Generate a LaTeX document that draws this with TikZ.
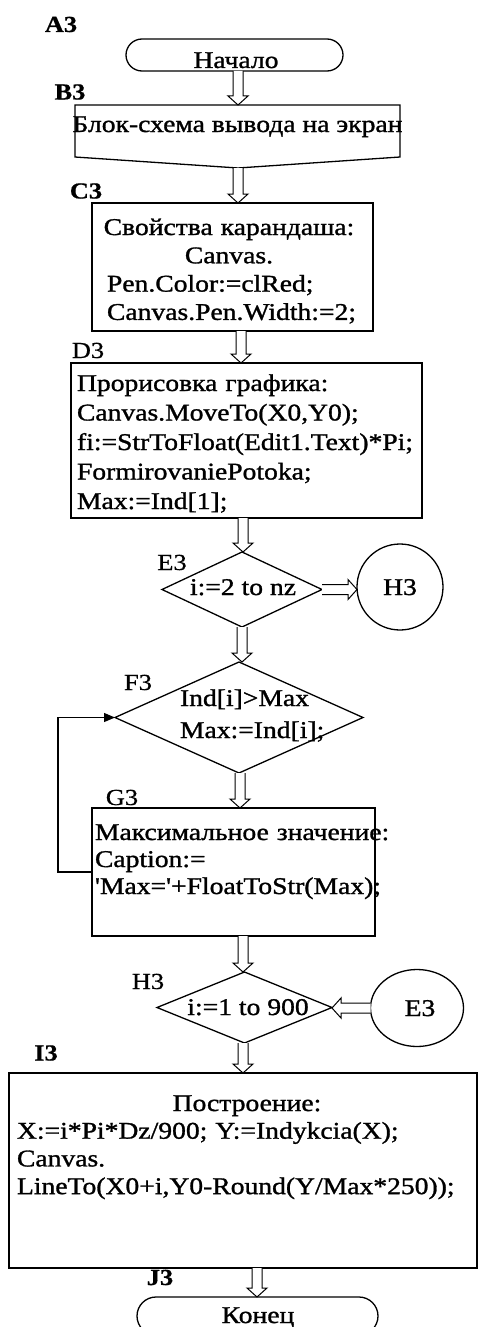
\documentclass[tikz,border=0pt]{standalone}
\usepackage{fontspec}
\setmainfont{Liberation Serif}[FakeStretch=1.15,FakeBold=1.2,Ligatures=TeXOff]
\newfontfamily\labfont{Liberation Serif}[FakeStretch=1.15,FakeBold=0.6,Ligatures=TeXOff]
\usetikzlibrary{shapes.geometric,calc,arrows.meta}

\tikzset{
  x=1pt, y=-1pt,
  every node/.style={inner sep=0pt, outer sep=0pt},
  txt/.style={font=\fontsize{24}{28}\selectfont, anchor=base},
  lab/.style={font=\labfont\fontsize{23}{27}\selectfont, anchor=base},
  blab/.style={font=\labfont\fontsize{23}{27}\selectfont\bfseries, anchor=base},
  box/.style={draw, rectangle, line width=1.3pt},
  para/.style={font=\fontsize{24}{#1}\selectfont, anchor=base west, align=left},
  harrow/.style={draw, line width=1pt, fill=white, line join=miter},
  loopline/.style={draw, line width=1.2pt, -{Triangle[length=11pt,width=9pt]}},
}

\newcommand\downarr[2]{\path[harrow] let \p1=#1, \p2=#2 in
  (\x1-5pt,\y1) -- (\x1-5pt,\y2+9pt) -- (\x1-10pt,\y2+9pt) -- (\x1,\y2)
  -- (\x1+10pt,\y2+9pt) -- (\x1+5pt,\y2+9pt) -- (\x1+5pt,\y1);}
\newcommand\rightarr[2]{\path[harrow] let \p1=#1, \p2=#2 in
  (\x1,\y1+5pt) -- (\x2-9pt,\y1+5pt) -- (\x2-9pt,\y1+10pt) -- (\x2,\y1)
  -- (\x2-9pt,\y1-10pt) -- (\x2-9pt,\y1-5pt) -- (\x1,\y1-5pt);}
\newcommand\leftarr[2]{\path[harrow] let \p1=#1, \p2=#2 in
  (\x1,\y1+5pt) -- (\x2+9pt,\y1+5pt) -- (\x2+9pt,\y1+10pt) -- (\x2,\y1)
  -- (\x2+9pt,\y1-10pt) -- (\x2+9pt,\y1-5pt) -- (\x1,\y1-5pt);}

\begin{document}
\begin{tikzpicture}
\useasboundingbox (0,0) rectangle (478,1327);
\clip (0,0) rectangle (478,1327);
\fill[white] (0,0) rectangle (478,1327);

% A3 start
\node[draw, rounded corners=16pt, minimum width=217pt, minimum height=32pt, line width=1.3pt] (A) at (234.5,55) {};
\node[txt] (At) at (236,68) {Начало};
\node[blab] (Al) at (61,32) {A3};

% B3 document
\node[minimum width=325pt, minimum height=52pt] (B) at (237.5,131) {};
\coordinate (Bb) at (238,168);
\draw[line width=1.3pt] (B.south west) -- (B.north west) -- (B.north east) -- (B.south east) -- (Bb) -- cycle;
\node[txt] (Bt) at (237.5,132) {Блок-схема вывода на экран};
\node[blab] (Bl) at (70,99.5) {B3};

% C3
\node[box, minimum width=281pt, minimum height=128pt] (C) at (232.5,267) {};
\node[para=28.3, text width=244pt] (Ct) at (107,235)
  {\makebox[\linewidth]{Свойства карандаша:}\\ \makebox[\linewidth]{Canvas.}\\ Pen.Color:=clRed;\\ Canvas.Pen.Width:=2;};
\node[blab] (Cl) at (86,198.5) {C3};

% D3
\node[box, minimum width=351pt, minimum height=155pt] (D) at (246.5,440.5) {};
\node[para=29.5, text width=340pt] (Dt) at (77,391)
  {Прорисовка графика:\\ Canvas.MoveTo(X0,Y0);\\ fi:=StrToFloat(Edit1.Text)*Pi;\\ FormirovaniePotoka;\\ Max:=Ind[1];};
\node[lab] (Dl) at (88,358) {D3};

% E3 diamond
\node[diamond, draw, line width=1.3pt, minimum width=160pt, minimum height=75pt] (E) at (242,589.5) {};
\node[txt] (Et) at (243,595) {i:=2 to nz};
\node[lab] (El) at (172,570) {E3};
\node[circle, draw, line width=1.3pt, minimum size=86pt] (Hc) at (400,587) {};
\node[txt] (Hct) at (400,595) {H3};

% F3 diamond
\node[diamond, draw, line width=1.3pt, minimum width=248pt, minimum height=111pt] (F) at (239,717.5) {};
\node[para=32, text width=150pt] (Ft) at (180,706) {Ind[i]>Max\\ Max:=Ind[i];};
\node[lab] (Fl) at (138,690) {F3};

% G3
\node[box, minimum width=283pt, minimum height=128pt] (G) at (233.5,872) {};
\node[para=27, text width=360pt] (Gt) at (95,840)
  {Максимальное значение:\\ Caption:=\\ 'Max='+FloatToStr(Max);};
\node[lab] (Gl) at (122,805) {G3};

% H3 diamond
\node[diamond, draw, line width=1.3pt, minimum width=175pt, minimum height=71pt] (H) at (244.5,1007.5) {};
\node[txt] (Ht) at (248,1015) {i:=1 to 900};
\node[lab] (Hl) at (148,989) {H3};
\node[ellipse, draw, line width=1.3pt, minimum width=93pt, minimum height=77pt] (Ec) at (417,1008) {};
\node[txt] (Ect) at (420,1016) {E3};

% I3
\node[box, minimum width=468pt, minimum height=195pt] (I) at (243,1170.5) {};
\node[para=27.7, text width=460pt] (It) at (17,1111)
  {\makebox[\linewidth]{Построение:}\\ X:=i*Pi*Dz/900; Y:=Indykcia(X);\\ Canvas.\\ LineTo(X0+i,Y0-Round(Y/Max*250));};
\node[blab] (Il) at (46,1060.5) {I3};

% J3 end
\node[draw, rounded corners=19pt, minimum width=241pt, minimum height=38pt, line width=1.3pt] (J) at (257.5,1316) {};
\node[txt] (Jt) at (258,1323) {Конец};
\node[blab] (Jl) at (160,1285) {J3};

% connectors
\downarr{($(A.south)+(3.5,0)$)}{(B.north)}
\downarr{(Bb)}{(C.north)}
\downarr{($(C.south)+(8.5,0)$)}{(D.north)}
\downarr{($(D.south)+(-3.5,0)$)}{(E.north)}
\downarr{(E.south)}{(F.north)}
\downarr{($(F.south)+(1,0)$)}{(G.north)}
\downarr{($(G.south)+(9.5,0)$)}{(H.north)}
\downarr{($(H.south)+(-1.5,0)$)}{(I.north)}
\downarr{($(I.south)+(14,0)$)}{(J.north)}
\rightarr{(E.east)}{(Hc.west)}
\leftarr{(Ec.west)}{(H.east)}
\draw[loopline] (G.west) -- ++(-34,0) |- (F.west);
\end{tikzpicture}
\end{document}
